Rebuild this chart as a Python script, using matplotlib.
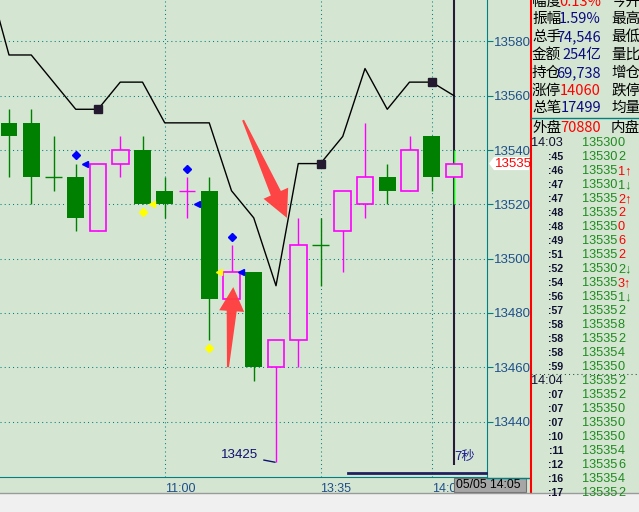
import numpy as np
import matplotlib
matplotlib.use("Agg")
import matplotlib.pyplot as plt
from matplotlib.patches import Rectangle, Polygon
from matplotlib.lines import Line2D
from matplotlib.transforms import IdentityTransform

plt.rcParams["font.family"] = ["Liberation Sans", "DejaVu Sans"]

W, H = 639, 512
BG = "#d4e6d2"
TEAL = "#008080"
AXIS_TXT = "#1f4f8a"
UP = "#ff00ff"
DOWN = "#008000"

# 5-minute candles
opens = [13550, 13550, 13530, 13530, 13510, 13535, 13540, 13525, 13525, 13525, 13485,
         13495, 13460, 13470, 13505, 13510, 13520, 13530, 13525, 13545, 13530]
closes = [13545, 13530, 13530, 13515, 13535, 13540, 13520, 13520, 13525, 13485, 13495,
          13460, 13470, 13505, 13505, 13525, 13530, 13525, 13540, 13530, 13535]
highs = [13555, 13555, 13545, 13535, 13535, 13545, 13545, 13530, 13530, 13530, 13505,
         13495, 13470, 13515, 13515, 13525, 13550, 13535, 13545, 13545, 13540]
lows = [13530, 13520, 13525, 13510, 13510, 13530, 13520, 13515, 13515, 13470, 13485,
        13455, 13425, 13460, 13490, 13495, 13515, 13520, 13525, 13525, 13520]

# black reference line
line_idx = list(range(-1, 21))
line_vals = [13605, 13575, 13575, 13565, 13555, 13555, 13565, 13565, 13550, 13550, 13550,
             13525, 13515, 13490, 13535, 13535, 13545, 13570, 13555, 13565, 13565, 13560]
square_idx = [4, 14, 19]

# signal markers
blue_dia_idx = [3, 8, 10]
blue_dia_vals = [13538, 13533, 13508]
blue_tri_idx = [3, 8, 10]
blue_tri_vals = [13535, 13520, 13495]
yel_dia_idx = [6, 9]
yel_dia_vals = [13517, 13467]
yel_tri_idx = [6, 9]
yel_tri_vals = [13520, 13495]

yticks = [13440, 13460, 13480, 13500, 13520, 13540, 13560, 13580]
xtick_idx = [7, 14, 19]
xtick_labels = ["11:00", "13:35", "14:00"]

# right info panel
stat_labels = ["幅度", "振幅", "总手", "金额", "持仓", "涨停", "总笔"]
stat_values = ["0.13%", "1.59%", "74,546", "254亿", "69,738", "14060", "17499"]
stat_red = [True, False, False, False, False, True, False]
stat_right = ["今开", "最高", "最低", "量比", "增仓", "跌停", "均量"]
outer_vol = "70880"

tick_times = ["14:03", ":45", ":46", ":47", ":47", ":48", ":48", ":49", ":51", ":52", ":54",
              ":56", ":57", ":58", ":58", ":58", ":59", "14:04", ":07", ":07", ":07", ":10",
              ":11", ":12", ":16", ":17"]
tick_prices = [13530, 13530, 13535, 13530, 13535, 13535, 13535, 13535, 13535, 13530, 13535,
               13535, 13535, 13535, 13535, 13535, 13535, 13535, 13535, 13535, 13535, 13535,
               13535, 13535, 13535, 13535]
tick_vols = [0, 2, 1, 1, 2, 2, 0, 6, 2, 2, 3, 1, 2, 8, 2, 4, 0, 2, 2, 0, 0, 0, 4, 6, 4, 2]
tick_side = ["S", "S", "B", "S", "B", "B", "B", "B", "B", "S", "B", "S", "S", "S", "S", "S",
             "S", "S", "S", "S", "S", "S", "S", "S", "S", "S"]
tick_arrow = ["", "", "↑", "↓", "↑", "", "", "", "", "↓", "↑", "↓", "", "", "", "", "",
              "", "", "", "", "", "", "", "", ""]

CJK = ["Noto Sans CJK SC", "DejaVu Sans"]


def fx(x):
    return x / W


def fy(y):
    return 1 - y / H


fig = plt.figure(figsize=(W / 100, H / 100), dpi=100, facecolor=BG)
ax = fig.add_axes([0, 35 / H, 487 / W, 477 / H], facecolor=BG)
ax.set_xlim(-0.4045, 21.483)
ax.set_ylim(13419.56, 13595.25)

# grid
dots = (0, (1, 3))
for v in yticks:
    ax.axhline(v, color=TEAL, lw=0.75, ls=dots, zorder=1)
for i in xtick_idx:
    ax.axvline(i, color=TEAL, lw=0.75, ls=dots, zorder=1)

# cursor line on last bar
n = len(opens)
ax.vlines(n - 1, 13424, 13600, color="#2a1a3a", lw=1.5, zorder=2)

# candles
bw = 0.76
for i in range(n):
    o, c, hi, lo = opens[i], closes[i], highs[i], lows[i]
    if c > o or (c == o and i > 0 and c > closes[i - 1]):
        col = UP
    else:
        col = DOWN
    wick = "#00ff00" if i == n - 1 else col
    ax.vlines(i, lo, hi, color=wick, lw=1.0, zorder=3)
    if c == o:
        ax.hlines(c, i - bw / 2, i + bw / 2, color=col, lw=1.0, zorder=4)
    elif col == UP:
        ax.bar(i, c - o, bottom=o, width=bw, facecolor=BG, edgecolor=UP, lw=1.2, zorder=4)
    else:
        ax.bar(i, o - c, bottom=c, width=bw, color=DOWN, lw=0, zorder=4)

# black line with square markers
ax.plot(line_idx, line_vals, color="black", lw=1.0, zorder=5)
ax.plot(square_idx, [line_vals[line_idx.index(i)] for i in square_idx], "s",
        color="#231a30", ms=6, zorder=6)

# signals
ax.plot(blue_dia_idx, blue_dia_vals, "D", color="#0000ff", ms=4.5, zorder=6)
ax.plot(np.array(blue_tri_idx) + 0.43, blue_tri_vals, "<", color="#0000ff", ms=5, zorder=6)
ax.plot(yel_dia_idx, yel_dia_vals, "D", color="#ffff00", ms=4.5, zorder=6)
ax.plot(np.array(yel_tri_idx) + 0.43, yel_tri_vals, "<", color="#ffff00", ms=5, zorder=6)

# lowest price note
lo_i = int(np.argmin(lows))
ax.annotate(str(min(lows)), xy=(lo_i - 0.04, min(lows)), xytext=(lo_i - 0.8, 13427.5),
            ha="right", va="center", fontsize=9.6, color="#101070",
            arrowprops=dict(arrowstyle="-", color="#101070", lw=1.0, shrinkA=2, shrinkB=0),
            zorder=6)
ax.text(n - 1 + 0.03, 13427, "7秒", fontsize=9.5, color="#202090", family=CJK,
        ha="left", va="center", zorder=6)

# axis styling
ax.yaxis.tick_right()
ax.set_yticks(yticks)
ax.set_yticklabels([str(v) for v in yticks])
ax.set_xticks(xtick_idx)
ax.set_xticklabels(xtick_labels, ha="left")
ax.tick_params(axis="y", colors=TEAL, labelcolor=AXIS_TXT, labelsize=9.5, length=4, pad=1)
ax.tick_params(axis="x", colors=TEAL, labelcolor=AXIS_TXT, labelsize=9, length=0, pad=4)
for s in ["top", "left"]:
    ax.spines[s].set_visible(False)
ax.spines["right"].set_color(TEAL)
ax.spines["bottom"].set_color(TEAL)

# red arrows (annotation)
fig.canvas.draw()


def arrow(tail, tip, tail_w, base_w, head_w, head_len):
    t = ax.transData.transform(tail)
    p = ax.transData.transform(tip)
    d = p - t
    u = d / np.hypot(*d)
    nrm = np.array([-u[1], u[0]])
    b = p - u * head_len
    pts = [t + nrm * tail_w / 2, b + nrm * base_w / 2, b + nrm * head_w / 2, p,
           b - nrm * head_w / 2, b - nrm * base_w / 2, t - nrm * tail_w / 2]
    ax.add_patch(Polygon(pts, closed=True, facecolor="#ff3c3c", edgecolor="none",
                         transform=IdentityTransform(), zorder=7, alpha=0.95))


arrow((10.52, 13551), (12.49, 13515), 2, 11, 27, 27)
arrow((9.84, 13460), (10.08, 13489.5), 2, 10, 25, 24)

# last price flag
last = closes[-1]
_, yd = ax.transData.transform((0, last))
yp = H - yd
flag = [(489, yp), (494, yp - 6.5), (529, yp - 6.5), (529, yp + 6.5), (494, yp + 6.5)]
fig.patches.append(Polygon([(fx(a), fy(b)) for a, b in flag], closed=True,
                           transform=fig.transFigure, facecolor="white", edgecolor="none"))
fig.text(fx(495), fy(yp), str(last), color="#ff0000", fontsize=9.5, va="center", ha="left")

# frame lines / chrome
fig.lines.append(Line2D([fx(487), fx(530)], [fy(477.5), fy(477.5)], color=TEAL, lw=1,
                        transform=fig.transFigure))
fig.lines.append(Line2D([fx(348), fx(486)], [fy(473), fy(473)], color="#202060", lw=2,
                        transform=fig.transFigure))
fig.lines.append(Line2D([fx(530.5), fx(530.5)], [fy(0), fy(493)], color="#ff0000", lw=1.5,
                        transform=fig.transFigure))
fig.lines.append(Line2D([fx(531), fx(639)], [fy(118), fy(118)], color=TEAL, lw=1,
                        transform=fig.transFigure))
fig.lines.append(Line2D([fx(531), fx(639)], [fy(374), fy(374)], color="#205030", lw=0.75,
                        ls=dots, transform=fig.transFigure))
fig.patches.append(Rectangle((0, 0), 1, fy(493), transform=fig.transFigure,
                             facecolor="#f0f0f0", edgecolor="none"))
fig.lines.append(Line2D([0, 1], [fy(493), fy(493)], color="#9a9a9a", lw=1,
                        transform=fig.transFigure))
fig.patches.append(Rectangle((fx(454), fy(492)), fx(72), 14 / H, transform=fig.transFigure,
                             facecolor="#a6a6a6", edgecolor="#707070", lw=0.8))
fig.text(fx(456), fy(485), "05/05 14:05", color="black", fontsize=8.8, va="center", ha="left")

# info panel
row_y = [2, 19, 37, 55, 73, 91, 108]
for k in range(len(stat_labels)):
    fig.text(fx(532), fy(row_y[k]), stat_labels[k], family=CJK, fontsize=10.5,
             color="black", va="center", ha="left")
    fig.text(fx(601), fy(row_y[k]), stat_values[k], family=CJK, fontsize=10.5,
             color="#ff0000" if stat_red[k] else "#0a0a80", va="center", ha="right")
    fig.text(fx(611), fy(row_y[k]), stat_right[k], family=CJK, fontsize=10.5,
             color="black", va="center", ha="left")
fig.text(fx(532), fy(128), "外盘", family=CJK, fontsize=10.5, color="black", va="center")
fig.text(fx(601), fy(128), outer_vol, family=CJK, fontsize=10.5, color="#ff0000",
         va="center", ha="right")
fig.text(fx(611), fy(128), "内盘", family=CJK, fontsize=10.5, color="black", va="center")

for k in range(len(tick_times)):
    y = 143 + 14 * k
    t = tick_times[k]
    big = not t.startswith(":")
    fig.text(fx(563), fy(y), t, fontsize=9.2 if big else 7.6, weight="normal" if big else "bold",
             color="#101030", va="center", ha="right")
    fig.text(fx(582), fy(y), str(tick_prices[k]), fontsize=9.2, color="#1e8a1e",
             va="center", ha="left")
    vc = "#ff0000" if tick_side[k] == "B" else "#1e8a1e"
    fig.text(fx(618), fy(y), str(tick_vols[k]) + tick_arrow[k], fontsize=9.2, color=vc,
             va="center", ha="left")

plt.savefig("out.png", dpi=100, facecolor=BG)
